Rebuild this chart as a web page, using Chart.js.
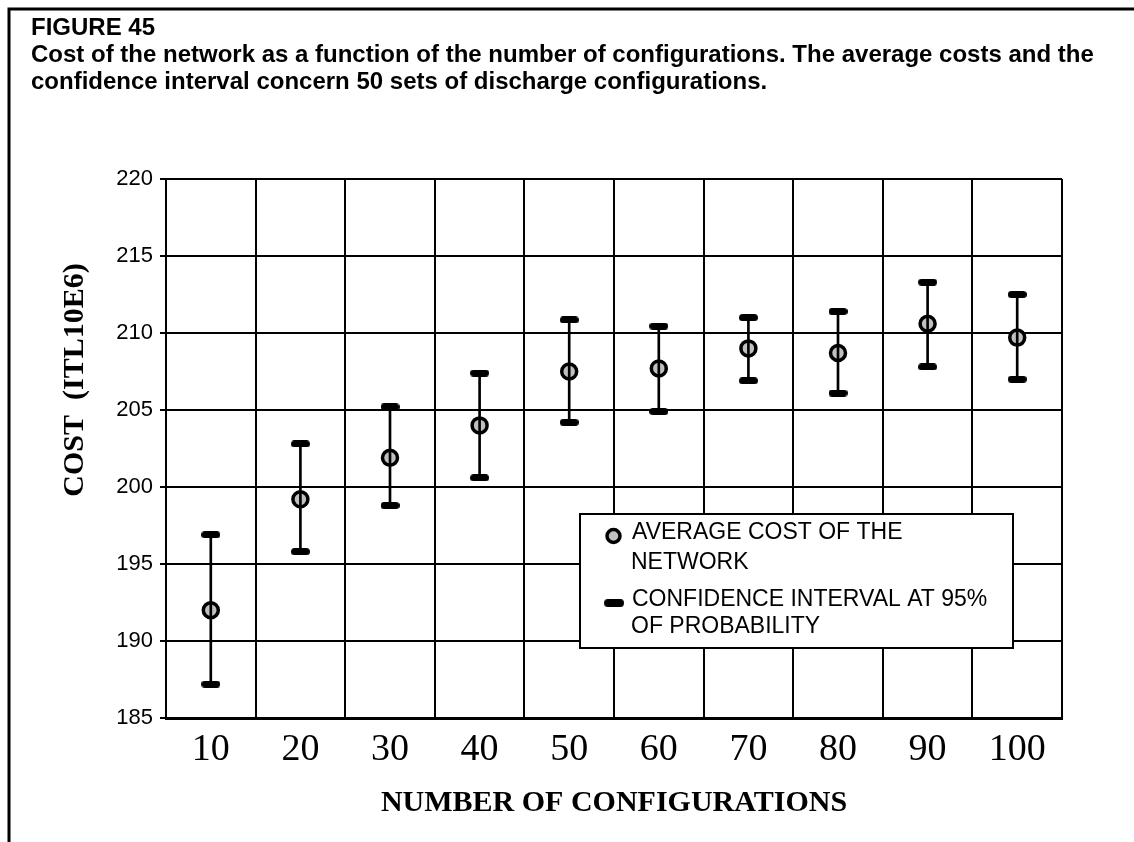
<!DOCTYPE html>
<html>
<head>
<meta charset="utf-8">
<title>Figure 45</title>
<script src="https://cdn.jsdelivr.net/npm/chart.js@4"></script>
<style>
  body { margin: 0; background: #fff; }
  canvas { display: block; }
</style>
</head>
<body>
<canvas id="canvas" width="1134" height="842"></canvas>
<script>
const configurations = ['10', '20', '30', '40', '50', '60', '70', '80', '90', '100'];
const averageCost = [192.0, 199.2, 201.9, 204.0, 207.5, 207.7, 209.0, 208.7, 210.6, 209.7];
const upperLimit = [196.9, 202.8, 205.2, 207.4, 210.85, 210.45, 211.0, 211.4, 213.3, 212.5];
const lowerLimit = [187.2, 195.8, 198.8, 200.6, 204.2, 204.9, 206.9, 206.1, 207.8, 207.0];
const costMin = 185;
const costMax = 220;
const costStep = 5;

const serif = '"Liberation Serif", "Times New Roman", serif';
const sans = '"Liberation Sans", Arial, sans-serif';

// thick rounded dash used for the ends of the intervals
function makeCap(w, h) {
  const c = document.createElement('canvas');
  c.width = w;
  c.height = h;
  const g = c.getContext('2d');
  g.strokeStyle = '#000';
  g.lineWidth = h;
  g.lineCap = 'round';
  g.beginPath();
  g.moveTo(h / 2, h / 2);
  g.lineTo(w - h / 2, h / 2);
  g.stroke();
  return c;
}
const cap = makeCap(19, 7);

const whiskers = lowerLimit.map(function (v, i) { return [v, upperLimit[i]]; });

const figurePlugin = {
  id: 'figure',
  beforeDraw: function (chart) {
    const ctx = chart.ctx;
    ctx.save();
    ctx.fillStyle = '#fff';
    ctx.fillRect(0, 0, chart.width, chart.height);
    ctx.restore();
  },
  afterDraw: function (chart) {
    const ctx = chart.ctx;
    ctx.save();

    // frame of the figure
    ctx.strokeStyle = '#000';
    ctx.lineWidth = 3;
    ctx.beginPath();
    ctx.moveTo(9, 842);
    ctx.lineTo(9, 9);
    ctx.lineTo(1134, 9);
    ctx.stroke();

    // caption
    ctx.fillStyle = '#000';
    ctx.textAlign = 'left';
    ctx.textBaseline = 'alphabetic';
    ctx.font = 'bold 24px ' + sans;
    ctx.fillText('FIGURE 45', 31, 35);
    ctx.fillText('Cost of the network as a function of the number of configurations. The average costs and the', 31, 62);
    ctx.fillText('confidence interval concern 50 sets of discharge configurations.', 31, 89);

    // y axis title
    ctx.save();
    ctx.translate(75, 380);
    ctx.rotate(-Math.PI / 2);
    ctx.textAlign = 'center';
    ctx.textBaseline = 'middle';
    ctx.font = 'bold 30px ' + serif;
    ctx.fillText('COST  (ITL10E6)', 0, 0);
    ctx.restore();

    // legend box
    ctx.fillStyle = '#fff';
    ctx.fillRect(580, 514, 433, 134);
    ctx.lineWidth = 2;
    ctx.strokeRect(580, 514, 433, 134);

    ctx.beginPath();
    ctx.arc(613.5, 536, 6.5, 0, Math.PI * 2);
    ctx.fillStyle = '#c0c0c0';
    ctx.fill();
    ctx.lineWidth = 3.5;
    ctx.stroke();
    ctx.drawImage(cap, 604, 599, 20, 8);

    ctx.fillStyle = '#000';
    ctx.font = '23px ' + sans;
    ctx.fillText('AVERAGE COST OF THE', 632, 539);
    ctx.fillText('NETWORK', 631, 569);
    ctx.fillText('CONFIDENCE INTERVAL AT 95%', 632, 606);
    ctx.fillText('OF PROBABILITY', 631, 633);

    ctx.restore();
  }
};

const ctx = document.getElementById('canvas');

new Chart(ctx, {
  type: 'bar',
  data: {
    labels: configurations,
    datasets: [{
      label: 'Interval',
      data: whiskers,
      backgroundColor: '#000',
      borderWidth: 0,
      barThickness: 2,
      order: 1
    }, {
      type: 'line',
      label: 'Upper limit',
      data: upperLimit,
      showLine: false,
      pointStyle: cap,
      pointRadius: 9,
      order: 2
    }, {
      type: 'line',
      label: 'Lower limit',
      data: lowerLimit,
      showLine: false,
      pointStyle: cap,
      pointRadius: 9,
      order: 2
    }, {
      type: 'line',
      label: 'AVERAGE COST OF THE NETWORK',
      data: averageCost,
      showLine: false,
      pointStyle: 'circle',
      pointRadius: 7.5,
      pointBorderWidth: 3.5,
      pointBackgroundColor: '#c0c0c0',
      pointBorderColor: '#000',
      order: 3
    }]
  },
  options: {
    responsive: false,
    animation: false,
    devicePixelRatio: 1,
    layout: {
      padding: { top: 179, right: 72, left: 0, bottom: 0 }
    },
    plugins: {
      legend: { display: false },
      tooltip: { enabled: false }
    },
    scales: {
      x: {
        offset: true,
        grid: {
          offset: true,
          color: '#000',
          lineWidth: 2,
          drawTicks: false
        },
        border: { color: '#000', width: 3 },
        ticks: {
          color: '#000',
          font: { family: serif, size: 38 },
          padding: 9,
          maxRotation: 0
        },
        title: {
          display: true,
          text: 'NUMBER OF CONFIGURATIONS',
          color: '#000',
          font: { family: serif, size: 30, weight: 'bold' },
          padding: { top: 0, bottom: 21 }
        },
        afterFit: function (scale) { scale.height = 124; }
      },
      y: {
        min: costMin,
        max: costMax,
        grid: {
          color: '#000',
          lineWidth: 2,
          tickLength: 6
        },
        border: { color: '#000', width: 2 },
        ticks: {
          stepSize: costStep,
          color: '#000',
          font: { family: sans, size: 22 },
          padding: 7
        },
        afterFit: function (scale) { scale.width = 166; }
      }
    }
  },
  plugins: [figurePlugin]
});
</script>
</body>
</html>
